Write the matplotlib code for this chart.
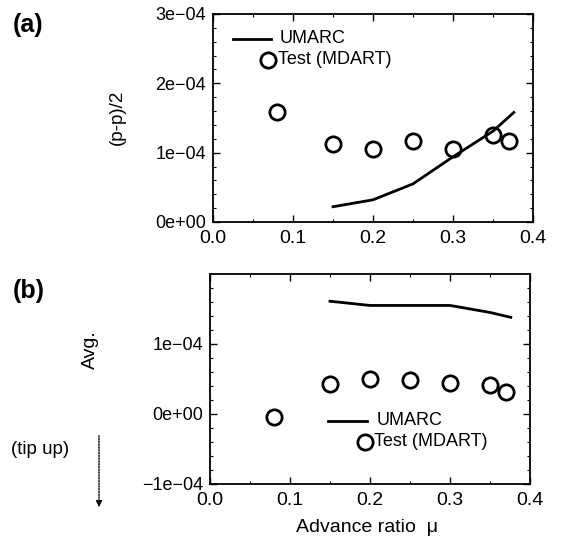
import matplotlib
matplotlib.use("Agg")
import matplotlib.pyplot as plt
from matplotlib.ticker import MultipleLocator, AutoMinorLocator, FuncFormatter

plt.rcParams['font.family'] = ['Liberation Sans', 'DejaVu Sans']

# (a) half peak-to-peak
mu_test_a = [0.08, 0.15, 0.20, 0.25, 0.30, 0.35, 0.37]
pp_test = [1.58e-4, 1.13e-4, 1.06e-4, 1.17e-4, 1.06e-4, 1.25e-4, 1.17e-4]
mu_umarc_a = [0.15, 0.20, 0.25, 0.30, 0.35, 0.376]
pp_umarc = [0.22e-4, 0.32e-4, 0.55e-4, 0.94e-4, 1.31e-4, 1.58e-4]

# (b) average
mu_test_b = [0.08, 0.15, 0.20, 0.25, 0.30, 0.35, 0.37]
avg_test = [-0.04e-4, 0.43e-4, 0.50e-4, 0.49e-4, 0.44e-4, 0.42e-4, 0.31e-4]
mu_umarc_b = [0.15, 0.20, 0.25, 0.30, 0.35, 0.376]
avg_umarc = [1.61e-4, 1.55e-4, 1.55e-4, 1.55e-4, 1.45e-4, 1.38e-4]

W, H = 561, 544


def sci(v, pos):
    return f"{v:.0e}".replace("-", "\u2212")


def style(ax, ylim):
    ax.set_xlim(0, 0.4)
    ax.set_ylim(*ylim)
    ax.xaxis.set_major_locator(MultipleLocator(0.1))
    ax.xaxis.set_minor_locator(AutoMinorLocator(2))
    ax.yaxis.set_major_locator(MultipleLocator(1e-4))
    ax.yaxis.set_minor_locator(AutoMinorLocator(5))
    ax.yaxis.set_major_formatter(FuncFormatter(sci))
    ax.xaxis.set_major_formatter(FuncFormatter(lambda v, p: f"{v:.1f}"))
    ax.tick_params(which='both', direction='in', top=True, right=True)
    ax.tick_params(which='major', length=5, width=1)
    ax.tick_params(which='minor', length=2.5, width=0.8)
    ax.tick_params(axis='x', labelsize=14, pad=6)
    ax.tick_params(axis='y', labelsize=13, pad=5)
    for s in ax.spines.values():
        s.set_linewidth(1.3)


def legend(ax, x0, x1, y1, y2, xt1, xc, xt2):
    ax.plot([x0, x1], [y1, y1], color='black', lw=2, transform=ax.transAxes, clip_on=False)
    ax.text(xt1, y1, "UMARC", transform=ax.transAxes, va='center', ha='left', fontsize=13)
    ax.plot([xc], [y2], 'o', ms=11, mfc='none', mec='black', mew=2, transform=ax.transAxes, clip_on=False)
    ax.text(xt2, y2, "Test (MDART)", transform=ax.transAxes, va='center', ha='left', fontsize=13)


def box(l, t, r, b):
    return [l / W, 1 - b / H, (r - l) / W, (b - t) / H]


fig = plt.figure(figsize=(W / 100, H / 100), dpi=100)

ax1 = fig.add_axes(box(213, 14, 533, 222))
ax1.plot(mu_umarc_a, pp_umarc, color='black', lw=2)
ax1.plot(mu_test_a, pp_test, 'o', ms=11, mfc='none', mec='black', mew=2)
style(ax1, (0, 3e-4))
legend(ax1, 0.063, 0.18, 0.88, 0.779, 0.207, 0.173, 0.203)

ax2 = fig.add_axes(box(210, 274, 530, 484))
ax2.plot(mu_umarc_b, avg_umarc, color='black', lw=2)
ax2.plot(mu_test_b, avg_test, 'o', ms=11, mfc='none', mec='black', mew=2)
style(ax2, (-1e-4, 1.999e-4))
legend(ax2, 0.368, 0.492, 0.301, 0.201, 0.522, 0.485, 0.512)

fig.text(13 / W, 1 - 25 / H, "(a)", fontsize=18, fontweight='bold', va='center', ha='left')
fig.text(13 / W, 1 - 291 / H, "(b)", fontsize=18, fontweight='bold', va='center', ha='left')
fig.text(117 / W, 1 - 117 / H, "(p-p)/2", rotation=90, fontsize=13.5, va='center', ha='center')
fig.text(90 / W, 1 - 350 / H, "Avg.", rotation=90, fontsize=14, va='center', ha='center')
fig.text(40 / W, 1 - 450 / H, "(tip up)", fontsize=13.5, va='center', ha='center')
fig.text(367 / W, 1 - 527 / H, "Advance ratio  \u03bc", fontsize=14, va='center', ha='center')
fig.add_artist(matplotlib.patches.FancyArrowPatch(
    (99 / W, 1 - 433 / H), (99 / W, 1 - 510 / H), transform=fig.transFigure,
    arrowstyle='-|>', mutation_scale=9, lw=1, linestyle=(0, (1, 1)), color='black'))

fig.savefig("out.png", dpi=100)
